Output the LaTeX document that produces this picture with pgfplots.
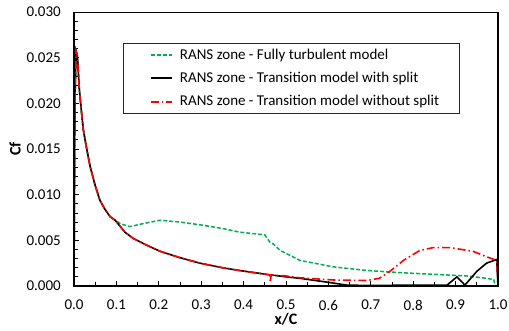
\documentclass[border=0pt]{standalone}
\usepackage{pgfplots}
\pgfplotsset{compat=1.18}
\usepackage{fontspec}
\setmainfont{Carlito}
\definecolor{exgreen}{RGB}{0,176,80}
\begin{document}
\fontsize{15}{18}\selectfont
\begin{tikzpicture}
\begin{axis}[
  name=ax,
  scale only axis,
  width=424pt, height=274pt,
  xmin=0, xmax=1, ymin=0, ymax=0.03,
  xtick={0,0.1,...,1.0},
  minor xtick={0.05,0.15,...,0.95},
  ytick={0,0.005,...,0.030},
  minor ytick={0.001,0.002,...,0.029},
  tick pos=left,
  tick align=inside,
  major tick length=5pt,
  minor tick length=4pt,
  every tick/.style={black, line width=0.8pt},
  axis line style={line width=0.9pt},
  /pgf/number format/assume math mode=true,
  xticklabel style={/pgf/number format/fixed, /pgf/number format/fixed zerofill, /pgf/number format/precision=1, yshift=-9pt},
  yticklabel style={/pgf/number format/fixed, /pgf/number format/fixed zerofill, /pgf/number format/precision=3, xshift=-8pt},
  scaled y ticks=false,
  scaled x ticks=false,
  ticklabel style={font=\fontsize{15}{18}\selectfont},
  xlabel={\textbf{x/C}},
  ylabel={\textbf{Cf}},
  x label style={at={(axis description cs:0.5,0)}, yshift=-33pt, anchor=center, font=\fontsize{16}{18}\selectfont},
  y label style={at={(axis description cs:-0.139,0.5)}, anchor=center, font=\fontsize{16}{18}\selectfont},
  legend style={at={(0.115,0.886)}, anchor=north west, draw=black!85,
    font=\fontsize{15}{17}\selectfont, inner xsep=27pt, inner ysep=3.5pt, row sep=6.5pt,
    column sep=5pt, cells={anchor=west}},
  legend cell align=left,
  legend image code/.code={\draw[#1, line width=2pt] plot coordinates {(0pt,0pt) (21pt,0pt)};},
]
% Fully turbulent
\addplot[exgreen, line width=1.5pt, dash pattern=on 4pt off 2pt] coordinates {
(0,0) (0.002,0.020) (0.005,0.0257) (0.008,0.0252) (0.0126,0.0215) (0.018,0.0189) (0.022,0.0171)
(0.03,0.0150) (0.038,0.0131) (0.05,0.0110) (0.061,0.0094) (0.073,0.0084) (0.085,0.0076) (0.097,0.0072)
(0.11,0.0068) (0.132,0.0065) (0.16,0.0068) (0.203,0.0072) (0.25,0.0070) (0.297,0.0067)
(0.35,0.0063) (0.39,0.0059) (0.45,0.0056) (0.462,0.0048) (0.47,0.0046) (0.486,0.0039)
(0.533,0.0028) (0.611,0.0021) (0.69,0.0017) (0.769,0.00146) (0.847,0.00128) (0.926,0.0011)
(0.973,0.00084) (0.99,0.0007) (0.993,0.0001) (1.0,0)
};
\addlegendentry{RANS zone - Fully turbulent model}
% Transition with split
\addplot[black, line width=1.6pt] coordinates {
(0,0) (0.002,0.020) (0.005,0.0257) (0.008,0.0252) (0.0126,0.0215) (0.018,0.0189) (0.022,0.0171)
(0.03,0.0150) (0.038,0.0131) (0.05,0.0110) (0.061,0.0094) (0.073,0.0084) (0.085,0.0076) (0.097,0.0072)
(0.12,0.0059) (0.14,0.0052) (0.17,0.0045) (0.203,0.0038) (0.25,0.0031) (0.297,0.0025)
(0.35,0.0020) (0.39,0.0017) (0.45,0.0013) (0.5,0.0010) (0.533,0.00084) (0.6,0.0004)
(0.643,0.0001) (0.7,0.00005) (0.8,0.0001) (0.88,0.0001) (0.903,0.0010) (0.922,0.0001)
(0.95,0.0016) (0.973,0.0025) (0.997,0.0029) (1.0,0)
};
\addlegendentry{RANS zone - Transition model with split}
% Transition without split
\addplot[red, line width=1.6pt, dash pattern=on 8pt off 3pt on 1.5pt off 3pt] coordinates {
(0,0) (0.002,0.020) (0.005,0.0257) (0.008,0.0252) (0.0126,0.0215) (0.018,0.0189) (0.022,0.0171)
(0.03,0.0150) (0.038,0.0131) (0.05,0.0110) (0.061,0.0094) (0.073,0.0084) (0.085,0.0076) (0.097,0.0072)
(0.12,0.0059) (0.14,0.0052) (0.17,0.0045) (0.203,0.0038) (0.25,0.0031) (0.297,0.0025)
(0.35,0.0020) (0.39,0.0017) (0.45,0.0013) (0.462,0.0012) (0.463,0.0004) (0.465,0.0012)
(0.5,0.0011) (0.533,0.0009) (0.611,0.00066) (0.69,0.0006) (0.72,0.00084) (0.745,0.0016)
(0.777,0.0028) (0.816,0.0039) (0.847,0.0042) (0.887,0.0042) (0.941,0.0038) (0.973,0.0032)
(0.997,0.0028) (1.0,0)
};
\addlegendentry{RANS zone - Transition model without split\hspace*{-9pt}}
\end{axis}
\draw[line width=1.8pt] (ax.north west) -- (ax.south west) -- (ax.south east);
\draw[line width=1.4pt] (ax.south east) -- (ax.north east);
\pgfresetboundingbox
\useasboundingbox ([xshift=-74pt,yshift=-45pt]ax.south west) rectangle ([xshift=11pt,yshift=12pt]ax.north east);
\end{tikzpicture}
\end{document}
